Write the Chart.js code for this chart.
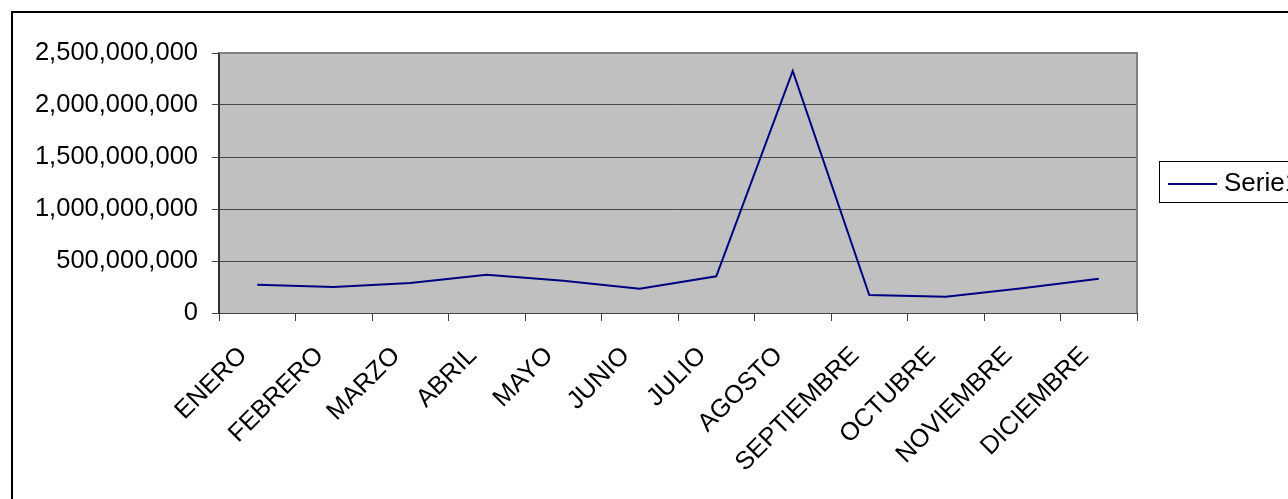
<!DOCTYPE html>
<html>
<head>
<meta charset="utf-8">
<script src="https://cdn.jsdelivr.net/npm/chart.js@4/dist/chart.umd.min.js"></script>
<style>
  html, body { margin: 0; padding: 0; background: #fff; }
  #wrap { position: relative; width: 1288px; height: 499px; }
</style>
</head>
<body>
<div id="wrap"><canvas id="myChart"></canvas></div>
<script>
const months = ['ENERO', 'FEBRERO', 'MARZO', 'ABRIL', 'MAYO', 'JUNIO', 'JULIO', 'AGOSTO', 'SEPTIEMBRE', 'OCTUBRE', 'NOVIEMBRE', 'DICIEMBRE'];
const serie1 = [272000000, 250000000, 288000000, 368000000, 310000000, 234000000, 353000000, 2327000000, 173000000, 157000000, 237000000, 330000000];
const yTicks = [0, 500000000, 1000000000, 1500000000, 2000000000, 2500000000];
const seriesName = 'Serie1';

const FONT = '"Liberation Sans", Arial, sans-serif';

// gray plot area, outer frame and the legend box
const frame = {
  id: 'frame',
  beforeDraw(chart) {
    const { ctx, chartArea: a } = chart;
    ctx.save();
    ctx.fillStyle = '#C0C0C0';
    ctx.fillRect(a.left, a.top, a.right - a.left, a.bottom - a.top);
    ctx.restore();
  },
  afterDraw(chart) {
    const { ctx, chartArea: a } = chart;
    ctx.save();
    ctx.strokeStyle = '#808080';
    ctx.lineWidth = 2;
    ctx.beginPath();
    ctx.moveTo(a.left, a.top);
    ctx.lineTo(a.right, a.top);
    ctx.lineTo(a.right, a.bottom);
    ctx.stroke();

    ctx.strokeStyle = '#000';
    ctx.lineWidth = 2;
    ctx.strokeRect(12, 12, 1300, 500);

    // legend
    ctx.lineWidth = 1;
    ctx.strokeStyle = '#000';
    ctx.strokeRect(1159.5, 161.5, 200, 41);
    ctx.strokeStyle = '#000080';
    ctx.lineWidth = 2;
    ctx.beginPath();
    ctx.moveTo(1168, 184);
    ctx.lineTo(1217, 184);
    ctx.stroke();
    ctx.fillStyle = '#000';
    ctx.font = '26px ' + FONT;
    ctx.textBaseline = 'middle';
    ctx.fillText(seriesName, 1224, 184);
    ctx.restore();
  }
};

new Chart(document.getElementById('myChart'), {
  type: 'line',
  data: {
    labels: months,
    datasets: [{
      label: seriesName,
      data: serie1,
      borderColor: '#000080',
      borderWidth: 2,
      pointRadius: 0,
      fill: false,
      tension: 0
    }]
  },
  options: {
    responsive: true,
    maintainAspectRatio: false,
    animation: false,
    layout: { padding: { top: 53, right: 151, left: 0, bottom: 0 } },
    scales: {
      x: {
        offset: true,
        grid: { offset: true, drawOnChartArea: false, color: '#404040', tickLength: 8 },
        border: { color: '#404040', width: 1 },
        ticks: {
          color: '#000',
          font: { family: FONT, size: 25.3 },
          minRotation: 45,
          maxRotation: 45,
          padding: 20,
          labelOffset: -14,
          autoSkip: false
        },
        afterFit(scale) { scale.height = 186; }
      },
      y: {
        min: 0,
        max: 2500000000,
        afterBuildTicks(scale) { scale.ticks = yTicks.map(v => ({ value: v })); },
        grid: { color: '#484848', tickLength: 7 },
        border: { color: '#303030', width: 2 },
        ticks: {
          color: '#000',
          font: { family: FONT, size: 25.5 },
          padding: 14,
          callback: v => v.toLocaleString('en-US')
        },
        afterFit(scale) { scale.width = 219; }
      }
    },
    plugins: {
      legend: { display: false },
      tooltip: { enabled: false },
      title: { display: false }
    }
  },
  plugins: [frame]
});
</script>
</body>
</html>
